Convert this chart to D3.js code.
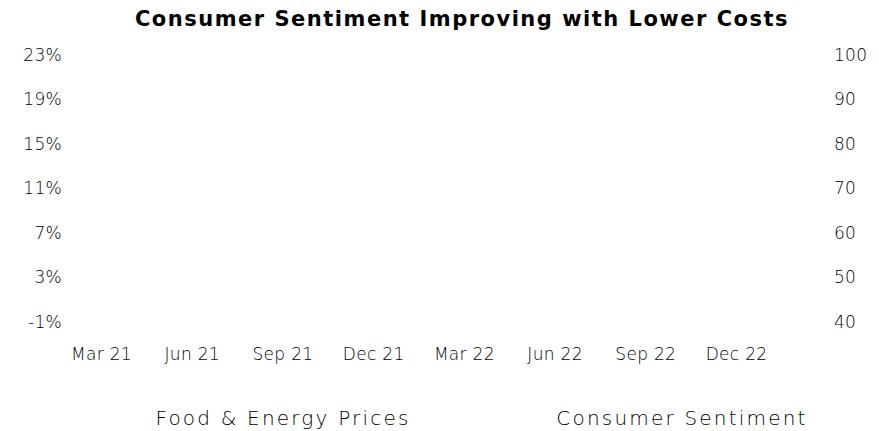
<!DOCTYPE html>
<html>
<head>
<meta charset="utf-8">
<script src="https://cdn.jsdelivr.net/npm/d3@7"></script>
<style>
  body { margin: 0; background: #fff; }
  text { font-family: "DejaVu Sans", sans-serif; }
</style>
</head>
<body>
<script>
// tick labels, no lines are drawn in the reference
var quarters = ["Mar 21", "Jun 21", "Sep 21", "Dec 21", "Mar 22", "Jun 22", "Sep 22", "Dec 22"]
var pctTicks = [-1, 3, 7, 11, 15, 19, 23]
var sentTicks = [40, 50, 60, 70, 80, 90, 100]
var legendNames = ["Food & Energy Prices", "Consumer Sentiment"]

var width = 879, height = 431
var margin = {top: 55, right: 45, bottom: 109, left: 62}

var svg = d3.select("body")
            .append("svg")
            .attr("width", width)
            .attr("height", height)

svg.append("text")
    .attr("x", 462)
    .attr("y", 26)
    .attr("text-anchor", "middle")
    .style("font-size", "21px")
    .style("font-weight", "bold")
    .style("letter-spacing", "1.5px")
    .style("fill", "#000")
    .text("Consumer Sentiment Improving with Lower Costs")

var x = d3.scalePoint()
    .domain(quarters)
    .range([101, 736])

var yLeft = d3.scaleLinear()
    .domain([-1, 23])
    .range([height - margin.bottom, margin.top])

var yRight = d3.scaleLinear()
    .domain([40, 100])
    .range([height - margin.bottom, margin.top])

svg.append("g")
    .attr("transform", "translate(" + margin.left + ",0)")
    .call(d3.axisLeft(yLeft).tickValues(pctTicks).tickSize(0).tickPadding(0)
      .tickFormat(function(d){ return d + "%" }))

svg.append("g")
    .attr("transform", "translate(" + (width - margin.right) + ",0)")
    .call(d3.axisRight(yRight).tickValues(sentTicks).tickSize(0).tickPadding(0))

svg.append("g")
    .attr("transform", "translate(0," + 348 + ")")
    .call(d3.axisBottom(x).tickSize(0).tickPadding(0))

svg.selectAll(".domain").remove()
svg.selectAll(".tick text")
    .style("font-family", "'DejaVu Sans', sans-serif")
    .style("font-size", "17px")
    .style("font-weight", "200")
    .style("letter-spacing", "0.3px")
    .style("fill", "#000")

svg.selectAll(".legend")
    .data(legendNames)
    .enter()
    .append("text")
    .attr("class", "legend")
    .attr("x", function(d, i){
      return i == 0 ? 283 : 682
    })
    .attr("y", 425)
    .attr("text-anchor", "middle")
    .style("font-size", "20px")
    .style("font-weight", "200")
    .style("letter-spacing", "2.2px")
    .style("fill", "#000")
    .text(function(d){ return d })
</script>
</body>
</html>
